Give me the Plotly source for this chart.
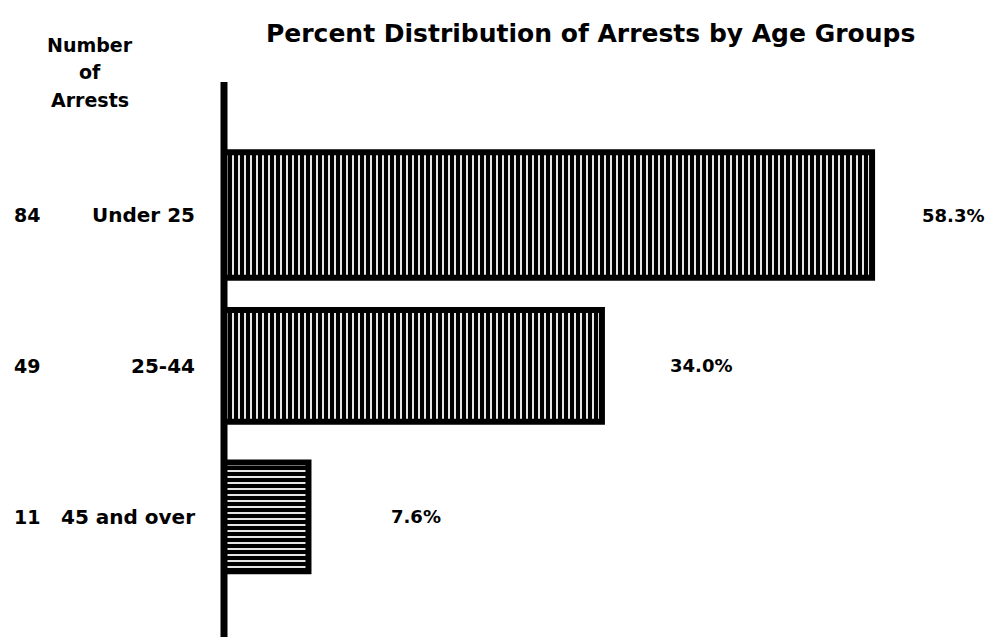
import plotly.graph_objects as go

categories = ["Under 25", "25-44", "45 and over"]
percents = [58.3, 34.0, 7.6]
arrests = [84, 49, 11]
pct_labels = ["58.3%", "34.0%", "7.6%"]
header_lines = ["Number", "of", "Arrests"]

bar_widths = [0.83, 0.74, 0.72]
pattern_shapes = ["|", "|", "-"]
label_shift = [48, 66, 81]
header_y_px = [45, 72, 100]

font_family = "DejaVu Sans, Liberation Sans, sans-serif"

fig = go.Figure()
fig.add_trace(go.Bar(
    y=categories,
    x=percents,
    orientation="h",
    width=bar_widths,
    marker=dict(
        color="black",
        line=dict(color="black", width=6),
        pattern=dict(shape=pattern_shapes, fgcolor="white", bgcolor="black",
                     size=6, solidity=0.3, fillmode="replace"),
    ),
    hoverinfo="skip",
))

annotations = []
for cat, pct, lab, n, sh in zip(categories, percents, pct_labels, arrests, label_shift):
    annotations.append(dict(x=pct, y=cat, xref="x", yref="y", text=f"<b>{lab}</b>",
                            xanchor="left", xshift=sh, showarrow=False,
                            font=dict(size=18, color="black", family=font_family)))
    annotations.append(dict(x=0, y=cat, xref="paper", yref="y", text=f"<b>{cat}</b>",
                            xanchor="right", xshift=-27, showarrow=False,
                            font=dict(size=20, color="black", family=font_family)))
    annotations.append(dict(x=0, y=cat, xref="paper", yref="y", text=f"<b>{n}</b>",
                            xanchor="center", xshift=-197, showarrow=False,
                            font=dict(size=19, color="black", family=font_family)))

for line, ypx in zip(header_lines, header_y_px):
    annotations.append(dict(x=0, y=1 - ypx / 637, xref="paper", yref="paper",
                            yanchor="middle", text=f"<b>{line}</b>", xanchor="center",
                            xshift=-134, showarrow=False,
                            font=dict(size=19, color="black", family=font_family)))

fig.update_layout(
    width=991, height=637,
    margin=dict(l=224, r=0, t=0, b=0),
    paper_bgcolor="white", plot_bgcolor="white",
    showlegend=False,
    title=dict(text="<b>Percent Distribution of Arrests by Age Groups</b>",
               x=0.596, xanchor="center", y=1 - 33 / 637, yanchor="middle",
               font=dict(size=25, color="black", family=font_family)),
    xaxis=dict(range=[0, 69.0], visible=False, showgrid=False, zeroline=False),
    yaxis=dict(range=[2.795, -1.424], visible=False, showgrid=False,
               categoryorder="array", categoryarray=categories),
    annotations=annotations,
    shapes=[dict(type="line", xref="paper", yref="paper", x0=0, x1=0,
                 y0=1 - 82 / 637, y1=0, line=dict(color="black", width=7))],
)

fig.write_html("out.html", config={"displayModeBar": False},
               post_script="document.body.style.margin='0';document.body.style.overflow='hidden';")
